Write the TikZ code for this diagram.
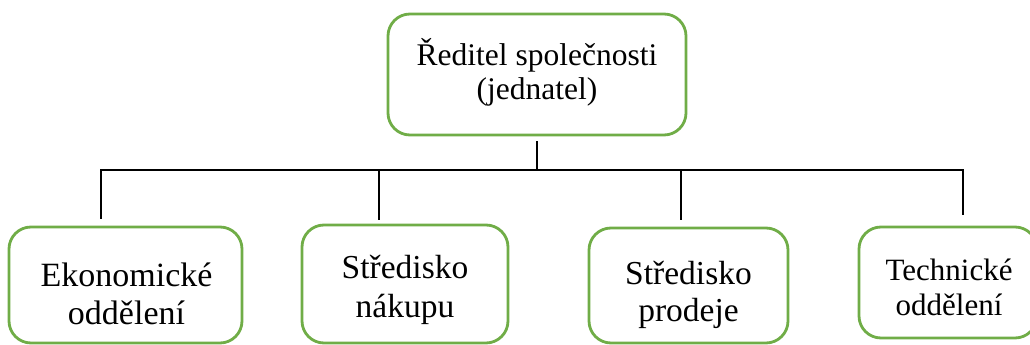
\documentclass[tikz,border=0pt]{standalone}
\usepackage{fontspec}
\setmainfont{Liberation Serif}
\definecolor{boxgreen}{HTML}{70AD47}
\begin{document}
\begin{tikzpicture}[x=1pt,y=-1pt,
  orgbox/.style={draw=boxgreen, line width=2.8pt, rounded corners=22pt, fill=white, inner sep=0pt},
  boxtext/.style={align=center, inner sep=0pt, text=black},
  conn/.style={draw=black, line width=2.8pt}]
\useasboundingbox (0,0) rectangle (1030,345);
\node[orgbox, minimum width=298pt, minimum height=121pt] (top) at (537,74.5) {};
\node[boxtext, font=\fontsize{31.5}{34}\selectfont] (toptext) at (537,72) {Ředitel společnosti\\(jednatel)};
\node[orgbox, minimum width=233pt, minimum height=116pt] (ekon) at (125.5,285) {};
\node[boxtext, font=\fontsize{34}{38}\selectfont] (ekontext) at (126.5,294) {Ekonomické\\oddělení};
\node[orgbox, minimum width=206pt, minimum height=118pt] (nak) at (405,284) {};
\node[boxtext, font=\fontsize{33.5}{39}\selectfont] (naktext) at (405,290) {Středisko\\nákupu};
\node[orgbox, minimum width=199pt, minimum height=115pt] (prod) at (688.5,285.5) {};
\node[boxtext, font=\fontsize{33.5}{37}\selectfont] (prodtext) at (688.5,295) {Středisko\\prodeje};
\node[orgbox, minimum width=178pt, minimum height=111pt] (tech) at (948,282.5) {};
\node[boxtext, font=\fontsize{31}{35}\selectfont] (techtext) at (949,287.5) {Technické\\oddělení};
\coordinate (bus) at (537,170);
\coordinate (b1) at (101,170);
\coordinate (b2) at (379,170);
\coordinate (b3) at (681,170);
\coordinate (b4) at (963,170);
\draw[conn, shorten <=5pt] (top.south) -- (top.south |- bus);
\draw[conn, line cap=rect] (b1) -- (b4);
\draw[conn, shorten >=7pt] (b1) -- (b1 |- ekon.north);
\draw[conn, shorten >=4pt] (b2) -- (b2 |- nak.north);
\draw[conn, shorten >=7pt] (b3) -- (b3 |- prod.north);
\draw[conn, shorten >=11pt] (b4) -- (b4 |- tech.north);
\end{tikzpicture}
\end{document}
